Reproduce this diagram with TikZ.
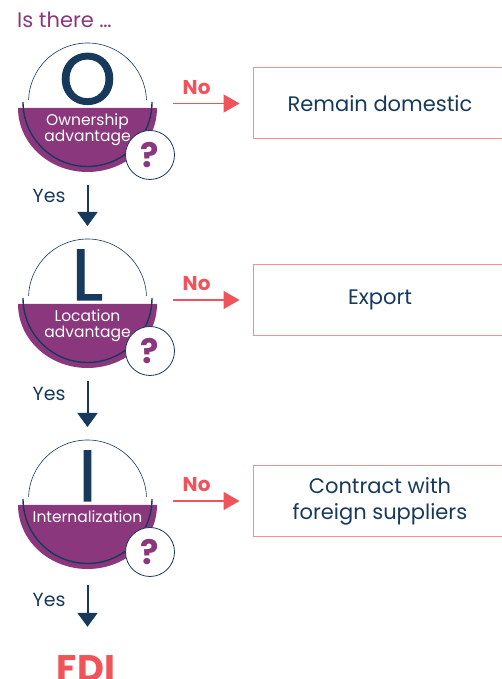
\documentclass[tikz,border=0pt]{standalone}
\usepackage{fontspec}
\setmainfont{Poppins}
\newfontfamily\oliletter[FakeBold=1.6]{Poppins}
\usepackage{tikz}
\usetikzlibrary{arrows.meta}
\definecolor{olipurple}{HTML}{8B377D}
\definecolor{olinavy}{HTML}{17395C}
\definecolor{olired}{HTML}{F0535A}
\definecolor{oliline}{HTML}{F39090}
\newcommand{\fsz}[1]{\fontsize{#1}{1.2\dimexpr#1pt\relax}\selectfont}
% badge: #1 name, #2 height of band, #3 letter, #4 label
\newcommand{\olibadge}[4]{%
\begin{scope}[shift={(87.5,#2)}]
\fill[olipurple] (-69.5,0) arc[start angle=180, end angle=360, x radius=69.5, y radius=64] -- cycle;
\draw[olinavy, line width=0.6pt] (0,6) ++(2:59) arc[start angle=2, end angle=178, radius=59];
\draw[olinavy, line width=1.4pt] (-64.5,6) arc[start angle=180, end angle=360, radius=64.5];
\node[bigletter] (#1-letter) at (0,4) {#3};
\node[badgetext] (#1-label) at (0,-6) {#4};
\node[qmark] (#1-q) at (62.5,-47) {?};
\coordinate (#1-top) at (0,65);
\coordinate (#1-bot) at (0,-64);
\end{scope}}

\begin{document}
\begin{tikzpicture}[x=1pt, y=1pt,
  bigletter/.style={anchor=base, inner sep=0, text=olinavy, font=\oliletter\fsz{72}},
  badgetext/.style={anchor=north, inner sep=0, text=white, align=center, font=\fontsize{15.5}{16}\selectfont},
  qmark/.style={draw=olinavy, line width=0.8pt, fill=white, circle, minimum size=49pt, inner sep=0, text=olipurple, font=\bfseries\fsz{34}},
  resultbox/.style={draw=oliline, line width=1pt, minimum width=254pt, minimum height=71pt, text=olinavy, align=center, font=\fontsize{21}{26}\selectfont},
  noarrow/.style={draw=olired, line width=1.5pt, -{Triangle[length=16pt, width=18pt]}},
  yesarrow/.style={draw=olinavy, line width=2pt, -{Triangle[length=14pt, width=20pt]}},
  nolabel/.style={anchor=base, inner sep=0, text=olired, font=\bfseries\fsz{20}},
  yeslabel/.style={anchor=base east, inner sep=0, text=olinavy, font=\fsz{19}}]
\useasboundingbox (0,0) rectangle (502,679);
\clip (0,0) rectangle (502,679);

% Heading
\node[anchor=base west, inner sep=0, text=olipurple, font=\fsz{21}] (head) at (17,651) {Is there …};

% Ownership
\olibadge{own}{571}{O}{Ownership\\advantage}
\node[resultbox] (remain) at (380,575.5) {Remain domestic};
\draw[noarrow] ([xshift=-80pt]remain.west) -- node[nolabel, pos=0.36, yshift=9pt] {No} ([xshift=-13pt]remain.west);

% Location
\olibadge{loc}{375}{L}{Location\\advantage}
\node[resultbox] (export) at (380,379) {Export};
\draw[noarrow] ([xshift=-80pt]export.west) -- node[nolabel, pos=0.36, yshift=9pt] {No} ([xshift=-13pt]export.west);
\draw[yesarrow, shorten <=13pt, shorten >=13pt] (own-bot) -- node[yeslabel, pos=0.45, xshift=-21pt] {Yes} (loc-top);

% Internalization
\olibadge{int}{174}{I}{Internalization}
\node[resultbox] (contract) at (380,178) {Contract with\\foreign suppliers};
\draw[noarrow] ([xshift=-80pt]contract.west) -- node[nolabel, pos=0.36, yshift=9pt] {No} ([xshift=-13pt]contract.west);
\draw[yesarrow, shorten <=13pt, shorten >=13pt] (loc-bot) -- node[yeslabel, pos=0.45, xshift=-21pt] {Yes} (int-top);

% Result
\node[anchor=base, inner sep=0, text=olired, font=\bfseries\fsz{37}] (fdi) at (86,-2) {FDI};
\draw[yesarrow, shorten <=16pt, shorten >=28pt] (int-bot) -- node[yeslabel, pos=0.44, xshift=-21pt] {Yes} (int-bot |- fdi.north);
\end{tikzpicture}
\end{document}
